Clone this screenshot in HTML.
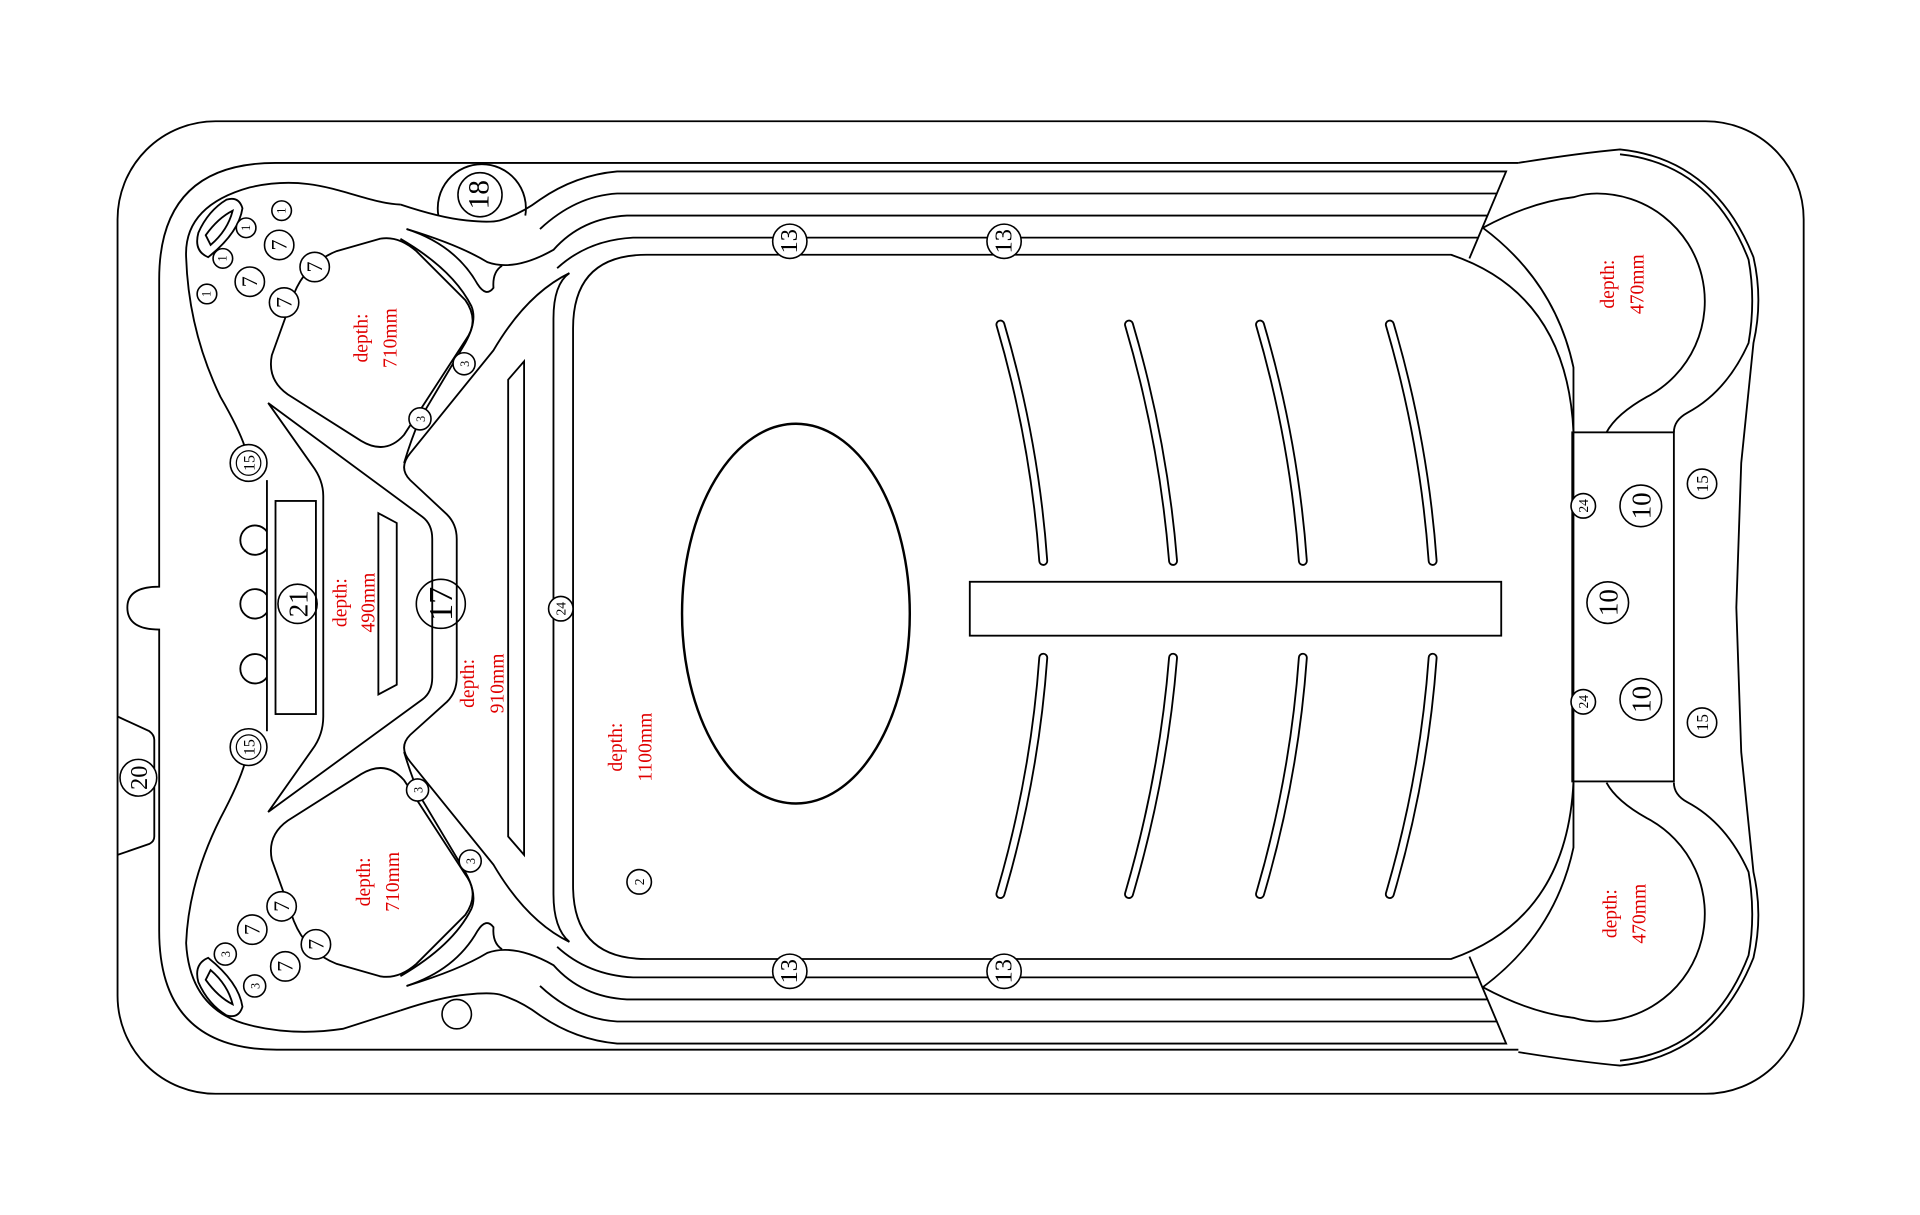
<!DOCTYPE html>
<html><head><meta charset="utf-8"><style>
html,body{margin:0;padding:0;background:#fff;}
svg{display:block;}
text{font-family:"Liberation Serif",serif;}
</style></head><body>
<svg width="1920" height="1215" viewBox="0 0 1568 992" preserveAspectRatio="none" xmlns="http://www.w3.org/2000/svg">
<defs>
<g id="half" fill="none" stroke="#000" stroke-width="1.5">
<path d="M327,167 Q360,178 381,180 Q400,182 408,180 Q425,175 441,163 Q470,143 504,140 H1230 L1200,211"/>
<path d="M332,187 Q375,200 398,214 Q420,222 452,204 Q475,178 512,176 H1215"/>
<path d="M332,187 Q372,200 390,232 Q397,243 403,235 Q402,222 410,217"/>
<path d="M441,187 Q470,160 504,158 H1222"/>
<path d="M455,219 Q480,196 517,194 H1207"/>
<path d="M327,195 Q370,220 385,250 Q390,262 380,280 L343,342 Q336,358 330,378"/>
<path d="M1240,133 Q1290,125 1323,122 Q1400,130 1432,210 Q1440,245 1432,280 L1422,378 L1418,496"/>
<path d="M1323,126 Q1398,134 1428,212 Q1434,245 1428,280 Q1410,320 1378,337 Q1367,343 1367,353"/>
<path d="M1211,186 Q1250,165 1285,161 Q1295,158 1304,158 A88,88 0 0 1 1345,324 Q1320,338 1312,353"/>
<path d="M1211,186 Q1270,230 1285,300 V353"/>
</g>
</defs>
<use href="#half"/>
<use href="#half" transform="translate(0,992) scale(1,-1)"/>
<g fill="none" stroke="#000" stroke-width="1.5">
<rect x="96" y="99" width="1377" height="794" rx="80"/>
<path d="M96,585 L122,597 Q126,600 126,604 V683 Q126,687 122,689 L96,698"/>
<path d="M1240,133 H225 Q130,133 130,228 V479 Q104,479 104,496 Q104,514 130,514 V760 Q130,857 226,857 H1240"/>
<path d="M327,167 C290,165 260,140 204,153 Q150,168 152,210 Q154,270 180,324 Q195,350 200,365"/>
<path d="M358,176 A36,36 0 1 1 429,176"/>
<path d="M218,392 V597"/>
<path d="M200,623 Q195,640 180,668 Q154,720 152,770 Q155,825 204,837 Q240,846 280,840 Q305,832 327,825"/>
<path d="M218,434 A12,12 0 1 0 218,448"/>
<path d="M218,486 A12,12 0 1 0 218,500"/>
<path d="M218,539 A12,12 0 1 0 218,553"/>
<path d="M528,208 H1185 Q1280,240 1285,353 V638 Q1280,750 1185,783 H528 Q468,783 468,723 V268 Q468,208 528,208 Z"/>
<path d="M465,223 Q452,232 452,260 V730 Q452,758 465,769"/>
<rect x="1284" y="353" width="83" height="285"/>
<ellipse cx="650" cy="501" rx="93" ry="155" stroke-width="2"/>
<rect x="792" y="475" width="434" height="44"/>
<path d="M310,195 Q325,192 340,205 L380,245 Q392,262 380,278 L330,355 Q315,372 295,360 L235,322 Q218,310 222,290 L240,240 Q250,215 275,205 Z"/>
<path d="M310,797 Q325,800 340,787 L380,747 Q392,730 380,714 L330,637 Q315,620 295,632 L235,670 Q218,682 222,702 L240,752 Q250,777 275,787 Z"/>
<path d="M219,329 L345,422 Q353,428 353,440 V553 Q353,565 345,571 L219,663 L255,612 Q264,600 264,585 V405 Q264,392 255,380 Z"/>
<path d="M465,223 Q430,240 403,286 L335,370 Q325,382 335,392 L365,420 Q373,428 373,440 V553 Q373,565 365,573 L335,600 Q325,610 335,622 L403,706 Q430,752 465,769"/>
<rect x="225" y="409" width="33" height="174"/>
<polygon points="309,419 324,427 324,559 309,567"/>
<polygon points="415,310 428,295 428,698 415,683"/>
<path d="M162,190 Q170,172 185,163 Q195,160 198,170 Q195,190 170,210 Q158,205 162,190 Z"/>
<path d="M168,192 Q178,178 190,172 Q186,188 172,200 Z"/>
<path d="M162,802 Q170,820 185,829 Q195,832 198,822 Q195,802 170,782 Q158,787 162,802 Z"/>
<path d="M168,800 Q178,814 190,820 Q186,804 172,792 Z"/>
</g>
<g fill="none" stroke="#000" stroke-width="8" stroke-linecap="round">
<path d="M817,265 Q845,360 852,458"/><path d="M922,265 Q950,360 958,458"/><path d="M1029,265 Q1057,360 1064,458"/><path d="M1135,265 Q1163,360 1170,458"/>
<path d="M817,730 Q845,635 852,537"/><path d="M922,730 Q950,635 958,537"/><path d="M1029,730 Q1057,635 1064,537"/><path d="M1135,730 Q1163,635 1170,537"/>
</g>
<g fill="none" stroke="#fff" stroke-width="5" stroke-linecap="round">
<path d="M817,265 Q845,360 852,458"/><path d="M922,265 Q950,360 958,458"/><path d="M1029,265 Q1057,360 1064,458"/><path d="M1135,265 Q1163,360 1170,458"/>
<path d="M817,730 Q845,635 852,537"/><path d="M922,730 Q950,635 958,537"/><path d="M1029,730 Q1057,635 1064,537"/><path d="M1135,730 Q1163,635 1170,537"/>
</g>
<g stroke="#000" stroke-width="1.3" fill="#fff">
<circle cx="392" cy="159" r="18"/>
<circle cx="645" cy="197" r="14"/><circle cx="820" cy="197" r="14"/><circle cx="645" cy="793" r="14"/><circle cx="820" cy="793" r="14"/>
<circle cx="203" cy="378" r="15"/><circle cx="203" cy="610" r="15"/>
<circle cx="1390" cy="395" r="12"/><circle cx="1390" cy="590" r="12"/>
<circle cx="360" cy="493" r="20" fill="none"/><circle cx="243" cy="493" r="16" fill="none"/><circle cx="113" cy="635" r="15"/>
<circle cx="458" cy="497" r="10"/><circle cx="1293" cy="413" r="10"/><circle cx="1293" cy="573" r="10"/>
<circle cx="1340" cy="413" r="17"/><circle cx="1313" cy="492" r="17"/><circle cx="1340" cy="571" r="17"/>
<circle cx="522" cy="720" r="10"/>
<circle cx="204" cy="230" r="12"/><circle cx="228" cy="200" r="12"/><circle cx="232" cy="247" r="12"/><circle cx="257" cy="218" r="12"/>
<circle cx="206" cy="759" r="12"/><circle cx="230" cy="740" r="12"/><circle cx="233" cy="789" r="12"/><circle cx="258" cy="771" r="12"/>
<circle cx="169" cy="240" r="8"/><circle cx="182" cy="211" r="8"/><circle cx="201" cy="186" r="8"/><circle cx="230" cy="172" r="8"/>
<circle cx="379" cy="297" r="9"/><circle cx="343" cy="342" r="9"/><circle cx="341" cy="645" r="9"/><circle cx="384" cy="703" r="9"/><circle cx="184" cy="779" r="9"/><circle cx="208" cy="805" r="9"/>
<circle cx="373" cy="828" r="12"/>
</g>
<g stroke="#000" stroke-width="1" fill="none">
<circle cx="203" cy="378" r="10"/><circle cx="203" cy="610" r="10"/>
</g>
<g font-family="Liberation Serif,serif" text-anchor="middle" fill="#000">
<text transform="translate(399,159) rotate(-90)" font-size="24">18</text>
<text transform="translate(651,197) rotate(-90)" font-size="20">13</text>
<text transform="translate(826,197) rotate(-90)" font-size="20">13</text>
<text transform="translate(651,793) rotate(-90)" font-size="20">13</text>
<text transform="translate(826,793) rotate(-90)" font-size="20">13</text>
<text transform="translate(208,378) rotate(-90)" font-size="13">15</text>
<text transform="translate(208,610) rotate(-90)" font-size="13">15</text>
<text transform="translate(1395,395) rotate(-90)" font-size="14">15</text>
<text transform="translate(1395,590) rotate(-90)" font-size="14">15</text>
<text transform="translate(369,493) rotate(-90)" font-size="28">17</text>
<text transform="translate(251,493) rotate(-90)" font-size="22">21</text>
<text transform="translate(120,635) rotate(-90)" font-size="20">20</text>
<text transform="translate(462,497) rotate(-90)" font-size="11">24</text>
<text transform="translate(1297,413) rotate(-90)" font-size="11">24</text>
<text transform="translate(1297,573) rotate(-90)" font-size="11">24</text>
<text transform="translate(1348,413) rotate(-90)" font-size="22">10</text>
<text transform="translate(1321,492) rotate(-90)" font-size="22">10</text>
<text transform="translate(1348,571) rotate(-90)" font-size="22">10</text>
<text transform="translate(526,720) rotate(-90)" font-size="11">2</text>
<g font-size="18">
<text transform="translate(210,230) rotate(-90)">7</text><text transform="translate(234,200) rotate(-90)">7</text><text transform="translate(238,247) rotate(-90)">7</text><text transform="translate(263,218) rotate(-90)">7</text>
<text transform="translate(212,759) rotate(-90)">7</text><text transform="translate(236,740) rotate(-90)">7</text><text transform="translate(239,789) rotate(-90)">7</text><text transform="translate(264,771) rotate(-90)">7</text>
</g>
<g font-size="10">
<text transform="translate(172,240) rotate(-90)">1</text><text transform="translate(185,211) rotate(-90)">1</text><text transform="translate(204,186) rotate(-90)">1</text><text transform="translate(233,172) rotate(-90)">1</text>
<text transform="translate(383,297) rotate(-90)">3</text><text transform="translate(347,342) rotate(-90)">3</text><text transform="translate(345,645) rotate(-90)">3</text><text transform="translate(388,703) rotate(-90)">3</text><text transform="translate(188,779) rotate(-90)">3</text><text transform="translate(212,805) rotate(-90)">3</text>
</g>
</g>
<g font-family="Liberation Serif,serif" text-anchor="middle" fill="#e00000" font-size="16">
<text transform="translate(300,276) rotate(-90)">depth:</text><text transform="translate(324,276) rotate(-90)">710mm</text>
<text transform="translate(302,720) rotate(-90)">depth:</text><text transform="translate(326,720) rotate(-90)">710mm</text>
<text transform="translate(283,492) rotate(-90)">depth:</text><text transform="translate(306,492) rotate(-90)">490mm</text>
<text transform="translate(387,558) rotate(-90)">depth:</text><text transform="translate(411,558) rotate(-90)">910mm</text>
<text transform="translate(508,610) rotate(-90)">depth:</text><text transform="translate(532,610) rotate(-90)">1100mm</text>
<text transform="translate(1318,232) rotate(-90)">depth:</text><text transform="translate(1342,232) rotate(-90)">470mm</text>
<text transform="translate(1320,746) rotate(-90)">depth:</text><text transform="translate(1344,746) rotate(-90)">470mm</text>
</g>
</svg>
</body></html>
